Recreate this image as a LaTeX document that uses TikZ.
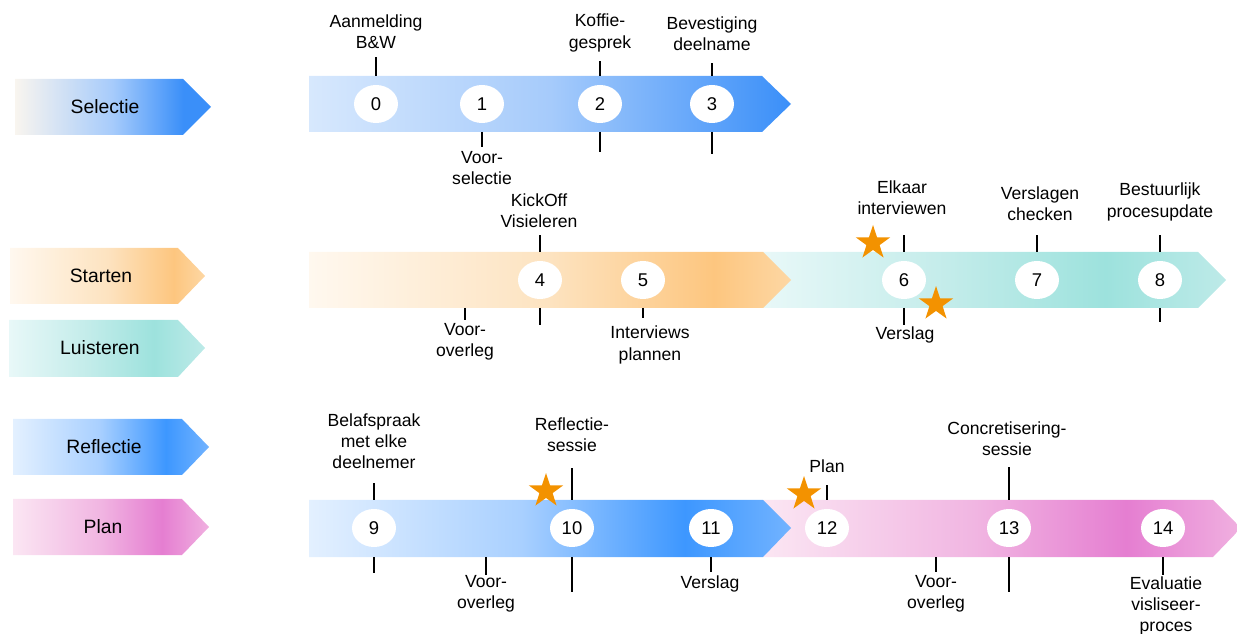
\documentclass[tikz,border=0pt]{standalone}
\usepackage{fontspec}
\setmainfont{Liberation Sans}
\usetikzlibrary{shapes.geometric}

% kleuren per fase
\definecolor{selA}{HTML}{D7E8FD}
\definecolor{selL}{HTML}{F9F5EF}
\definecolor{selB}{HTML}{A6CBFB}
\definecolor{selC}{HTML}{3A8FF9}
\definecolor{staA}{HTML}{FFF8EF}
\definecolor{staB}{HTML}{FDE3C0}
\definecolor{staC}{HTML}{FDC67F}
\definecolor{staD}{HTML}{FDD7A4}
\definecolor{luiA}{HTML}{E8F8F8}
\definecolor{luiB}{HTML}{C3ECEA}
\definecolor{luiC}{HTML}{9DE2DD}
\definecolor{luiD}{HTML}{BDEAE8}
\definecolor{refA}{HTML}{E3F0FF}
\definecolor{refB}{HTML}{A9D0FF}
\definecolor{refC}{HTML}{3D97FF}
\definecolor{refD}{HTML}{72B3FF}
\definecolor{plaA}{HTML}{FBE6F3}
\definecolor{plaB}{HTML}{F1B6E2}
\definecolor{plaC}{HTML}{E57ED1}
\definecolor{plaD}{HTML}{F0B0E0}
\definecolor{sterkleur}{HTML}{F39200}

\pgfdeclarehorizontalshading{selbar}{100bp}{color(0bp)=(selA); color(25bp)=(selA); color(50bp)=(selB); color(75bp)=(selC); color(100bp)=(selC)}
\pgfdeclarehorizontalshading{selleg}{100bp}{color(0bp)=(selL); color(25bp)=(selL); color(50bp)=(selB); color(68bp)=(selC); color(100bp)=(selC)}
\pgfdeclarehorizontalshading{stabar}{100bp}{color(0bp)=(staA); color(25bp)=(staA); color(50bp)=(staB); color(67bp)=(staC); color(75bp)=(staD); color(100bp)=(staD)}
\pgfdeclarehorizontalshading{luibar}{100bp}{color(0bp)=(luiA); color(25bp)=(luiA); color(45bp)=(luiB); color(62bp)=(luiC); color(75bp)=(luiD); color(100bp)=(luiD)}
\pgfdeclarehorizontalshading{refbar}{100bp}{color(0bp)=(refA); color(25bp)=(refA); color(47bp)=(refB); color(64bp)=(refC); color(75bp)=(refD); color(100bp)=(refD)}
\pgfdeclarehorizontalshading{plabar}{100bp}{color(0bp)=(plaA); color(25bp)=(plaA); color(47bp)=(plaB); color(63bp)=(plaC); color(75bp)=(plaD); color(100bp)=(plaD)}

\tikzset{
  lbl/.style={align=center, inner sep=0pt, font=\fontsize{10}{12}\selectfont},
  fase/.style={inner sep=0pt, font=\fontsize{11}{13}\selectfont},
  num/.style={ellipse, fill=white, minimum width=0.88cm, minimum height=0.76cm, inner sep=0pt, font=\fontsize{10.5}{12}\selectfont},
  tick/.style={line width=1.3pt},
  ster/.style={star, star points=5, star point ratio=2.6, fill=sterkleur, minimum size=0.72cm, inner sep=0pt}
}

\begin{document}
\begin{tikzpicture}[x=0.02cm, y=-0.02cm]
  \useasboundingbox (0,0) rectangle (1237,634);

  % Fasen (legenda)
  \shade[shading=selleg] (15,79) -- (183,79) -- (211,107) -- (183,135) -- (15,135) -- cycle;
  \shade[shading=stabar] (10,248) -- (178,248) -- (205,276) -- (178,304) -- (10,304) -- cycle;
  \shade[shading=luibar] (9,320) -- (178,320) -- (205,348) -- (178,377) -- (9,377) -- cycle;
  \shade[shading=refbar] (13,419) -- (182,419) -- (209,447) -- (182,475) -- (13,475) -- cycle;
  \shade[shading=plabar] (13,499) -- (182,499) -- (209,527) -- (182,555) -- (13,555) -- cycle;
  \node[fase] (fsel) at (105,107) {Selectie};
  \node[fase] (fsta) at (101,276) {Starten};
  \node[fase] (flui) at (100,348) {Luisteren};
  \node[fase] (fref) at (104,447) {Reflectie};
  \node[fase] (fpla) at (103,527) {Plan};

  % Tijdlijnen
  \shade[shading=selbar] (309,76) -- (762,76) -- (791,104) -- (762,132) -- (309,132) -- cycle;
  \shade[shading=luibar] (763,252) -- (1198,252) -- (1226,280) -- (1198,308) -- (763,308) -- cycle;
  \shade[shading=stabar] (309,252) -- (763,252) -- (791,280) -- (763,308) -- (309,308) -- cycle;
  \shade[shading=plabar] (763,500) -- (1213,500) -- (1241,528) -- (1213,557) -- (763,557) -- cycle;
  \shade[shading=refbar] (309,500) -- (763,500) -- (791,528) -- (763,557) -- (309,557) -- cycle;

  \coordinate (r1t) at (0,76);
  \coordinate (r1b) at (0,132);
  \coordinate (r2t) at (0,252);
  \coordinate (r2b) at (0,308);
  \coordinate (r3t) at (0,500);
  \coordinate (r3b) at (0,557);

  % Stappen
  \foreach \n/\x/\y in {0/376/104, 1/482/104, 2/600/104, 3/712/104,
                        4/540/280, 5/643/280, 6/904/280, 7/1037/280, 8/1160/280,
                        9/374/528, 10/572/528, 11/711/528, 12/827/528, 13/1009/528, 14/1163/528} {
    \node[num] (c\n) at (\x,\y) {\n};
  }

  % Teksten
  \node[lbl] (a0) at (376,32) {Aanmelding\\B\&W};
  \node[lbl] (b1) at (482,168) {Voor-\\selectie};
  \node[lbl] (a2) at (600,33) {Koffie-\\gesprek};
  \node[lbl] (a3) at (712,34) {Bevestiging\\deelname};
  \node[lbl] (a4) at (539,211) {KickOff\\Visieleren};
  \node[lbl] (v1) at (465,342) {Voor-\\overleg};
  \node[lbl] (b5) at (650,345) {Interviews\\plannen};
  \node[lbl] (a6) at (902,198) {Elkaar\\interviewen};
  \node[lbl] (b6) at (905,335) {Verslag};
  \node[lbl] (a7) at (1040,204) {Verslagen\\checken};
  \node[lbl] (a8) at (1160,202) {Bestuurlijk\\procesupdate};
  \node[lbl] (a9) at (374,441) {Belafspraak\\met elke\\deelnemer};
  \node[lbl] (v2) at (486,594) {Voor-\\overleg};
  \node[lbl] (a10) at (572,435) {Reflectie-\\sessie};
  \node[lbl] (b11) at (710,584) {Verslag};
  \node[lbl] (a12) at (827,466) {Plan};
  \node[lbl] (a13) at (1007,439) {Concretisering-\\sessie};
  \node[lbl] (v3) at (936,594) {Voor-\\overleg};
  \node[lbl] (b14) at (1166,606) {Evaluatie\\visliseer-\\proces};

  % Streepjes
  \draw[tick] (c0 |- r1t) -- ++(0,-19);
  \draw[tick] (b1 |- r1b) -- ++(0,15);
  \draw[tick] (c2 |- r1t) -- ++(0,-15);
  \draw[tick] (c2 |- r1b) -- ++(0,20);
  \draw[tick] (c3 |- r1t) -- ++(0,-13);
  \draw[tick] (c3 |- r1b) -- ++(0,22);

  \draw[tick] (v1 |- r2b) -- ++(0,12);
  \draw[tick] (c4 |- r2t) -- ++(0,-17);
  \draw[tick] (c4 |- r2b) -- ++(0,17);
  \draw[tick] (c5 |- r2b) -- ++(0,10);
  \draw[tick] (c6 |- r2t) -- ++(0,-17);
  \draw[tick] (c6 |- r2b) -- ++(0,17);
  \draw[tick] (c7 |- r2t) -- ++(0,-17);
  \draw[tick] (c8 |- r2t) -- ++(0,-17);
  \draw[tick] (c8 |- r2b) -- ++(0,14);

  \draw[tick] (c9 |- r3t) -- ++(0,-17);
  \draw[tick] (c9 |- r3b) -- ++(0,16);
  \draw[tick] (v2 |- r3b) -- ++(0,18);
  \draw[tick] (c10 |- r3t) -- ++(0,-32);
  \draw[tick] (c10 |- r3b) -- ++(0,35);
  \draw[tick] (c11 |- r3b) -- ++(0,15);
  \draw[tick] (c12 |- r3t) -- ++(0,-15);
  \draw[tick] (c13 |- r3t) -- ++(0,-33);
  \draw[tick] (c13 |- r3b) -- ++(0,35);
  \draw[tick] (v3 |- r3b) -- ++(0,15);
  \draw[tick] (c14 |- r3b) -- ++(0,18);

  % Sterren
  \node[ster] (s1) at (873,243) {};
  \node[ster] (s2) at (936,304) {};
  \node[ster] (s3) at (546,491) {};
  \node[ster] (s4) at (804,494) {};
\end{tikzpicture}
\end{document}
